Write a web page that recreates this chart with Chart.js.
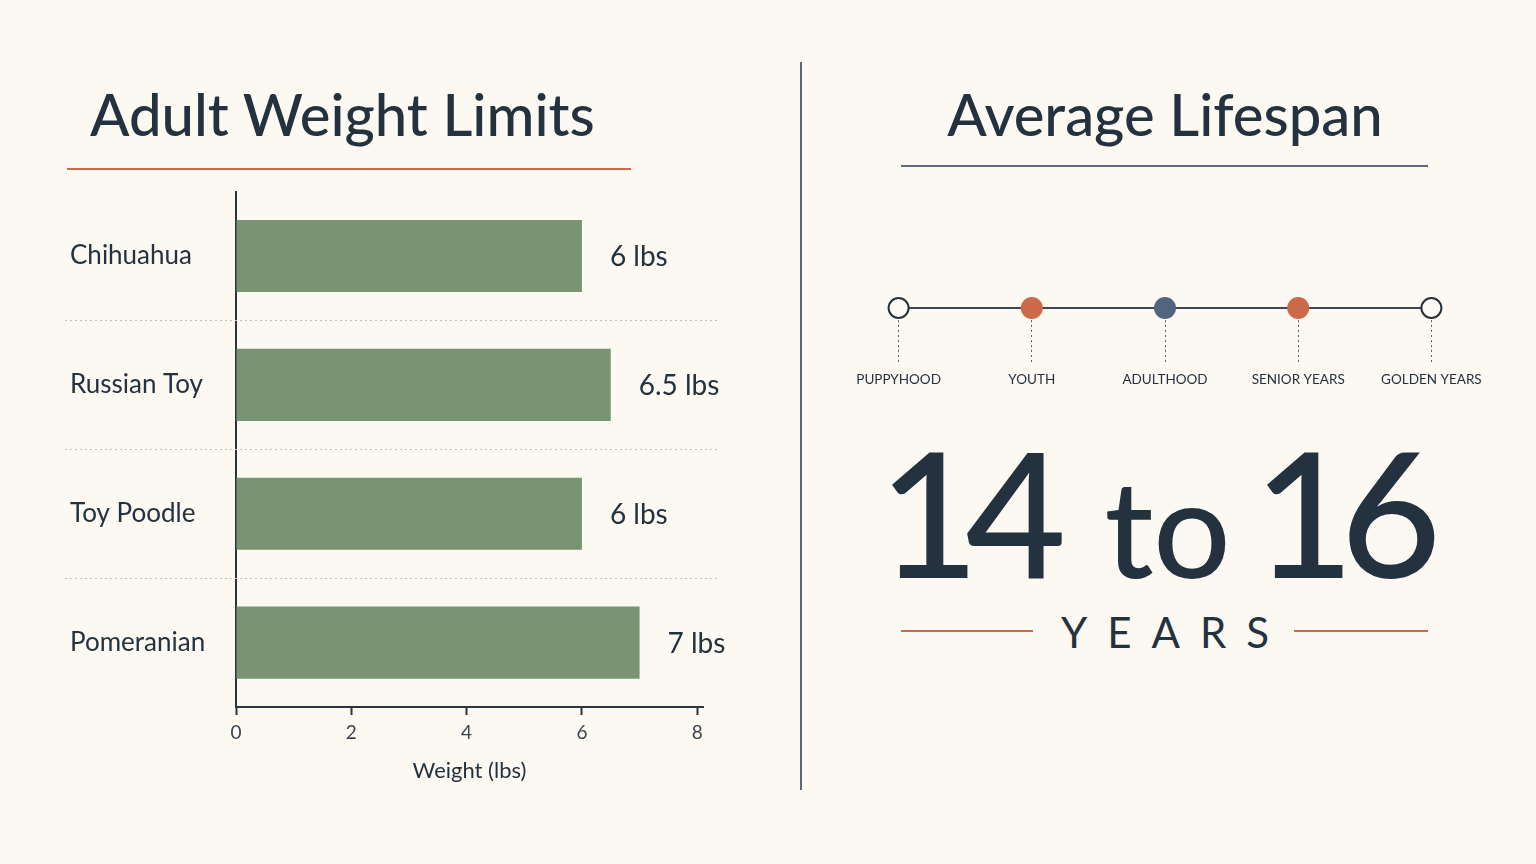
<!DOCTYPE html>
<html>
<head>
<meta charset="utf-8">
<script src="https://cdn.jsdelivr.net/npm/chart.js@4.4.1/dist/chart.umd.min.js"></script>
<style>
  body { margin: 0; background: #fcf8f2; width: 1536px; height: 864px; overflow: hidden; position: relative; font-family: Lato, 'Open Sans', sans-serif; color: #243240; }
  .abs { position: absolute; }
  .title { font-size: 58px; line-height: 1; font-weight: 500; white-space: nowrap; }
  .rule { height: 2px; }
  .big { left: 848px; width: 610px; top: 424px; text-align: center; line-height: 1; white-space: nowrap; font-weight: 500; }
  .big .num { font-size: 174px; letter-spacing: -14px; }
  .big .to { font-size: 136px; margin: 0 23px 0 52px; }
  .years { left: 1040px; width: 250px; top: 611px; text-align: center; font-size: 42px; line-height: 1; letter-spacing: 20px; padding-left: 20px; box-sizing: border-box; }
  canvas { position: absolute; }
</style>
</head>
<body>
<div class="abs title" style="left:90px;top:85px;">Adult Weight Limits</div>
<div class="abs rule" style="left:67px;top:168px;width:564px;background:#d0694a;"></div>

<div class="abs" style="left:800px;top:62px;width:2px;height:728px;background:#5d6978;"></div>

<div class="abs title" style="left:880px;width:570px;top:85px;text-align:center;">Average Lifespan</div>
<div class="abs rule" style="left:901px;top:165px;width:527px;background:#5f6b79;"></div>

<canvas id="weightChart" width="680" height="619" style="left:60px;top:176px;"></canvas>
<canvas id="stageChart" width="666" height="120" style="left:832px;top:280px;"></canvas>

<div class="abs big" id="bigRange"></div>
<div class="abs rule" style="left:901px;top:630px;width:132px;background:#d0694a;"></div>
<div class="abs years">YEARS</div>
<div class="abs rule" style="left:1294px;top:630px;width:134px;background:#d0694a;"></div>

<script>
// left panel data
const breeds = ['Chihuahua', 'Russian Toy', 'Toy Poodle', 'Pomeranian'];
const weights = [6, 6.5, 6, 7];
const weightTicks = [0, 2, 4, 6, 8];

// right panel data
const stages = ['PUPPYHOOD', 'YOUTH', 'ADULTHOOD', 'SENIOR YEARS', 'GOLDEN YEARS'];
const stageLevel = [0, 0, 0, 0, 0];
const lifespanMin = 14;
const lifespanMax = 16;

const FONT = 'Lato, "Open Sans", sans-serif';
const INK = '#243240';

document.getElementById('bigRange').innerHTML =
    `<span class="num">${lifespanMin}</span><span class="to">to</span><span class="num">${lifespanMax}</span>`;

// dotted separators between breeds, running under the labels too
const separators = {
    id: 'separators',
    beforeDatasetsDraw(chart) {
        const ctx = chart.ctx, y = chart.scales.y;
        ctx.save();
        ctx.strokeStyle = '#c4bfb6';
        ctx.lineWidth = 1;
        ctx.setLineDash([2, 3]);
        for (let i = 0; i < breeds.length - 1; i++) {
            const py = Math.round((y.getPixelForValue(i) + y.getPixelForValue(i + 1)) / 2) + 0.5;
            ctx.beginPath();
            ctx.moveTo(5, py);
            ctx.lineTo(chart.chartArea.right + 15, py);
            ctx.stroke();
        }
        ctx.restore();
    }
};

// "6 lbs" etc after each bar
const valueLabels = {
    id: 'valueLabels',
    afterDatasetsDraw(chart) {
        const ctx = chart.ctx;
        ctx.save();
        ctx.font = '28px ' + FONT;
        ctx.fillStyle = INK;
        ctx.textBaseline = 'middle';
        chart.getDatasetMeta(0).data.forEach((bar, i) => {
            ctx.fillText(`${weights[i]} lbs`, bar.x + 28, bar.y + 1);
        });
        ctx.restore();
    }
};

new Chart(document.getElementById('weightChart'), {
    type: 'bar',
    data: {
        labels: breeds,
        datasets: [{
            data: weights,
            backgroundColor: '#789473',
            barPercentage: 0.56,
            categoryPercentage: 1
        }]
    },
    options: {
        indexAxis: 'y',
        responsive: false,
        animation: false,
        layout: { padding: { left: 10, top: 7, right: 37, bottom: 0 } },
        plugins: { legend: { display: false }, tooltip: { enabled: false } },
        scales: {
            x: {
                min: 0,
                max: 8.1,
                afterBuildTicks: s => { s.ticks = weightTicks.map(v => ({ value: v })); },
                grid: { drawOnChartArea: false, tickLength: 8, tickColor: '#2a3540', tickWidth: 2 },
                border: { color: '#2a3540', width: 2 },
                ticks: { font: { family: FONT, size: 19 }, color: '#3a4550', padding: 6 },
                title: { display: true, text: 'Weight (lbs)', font: { family: FONT, size: 22 }, color: INK, padding: { top: 4, bottom: 11 } },
                afterFit: s => { s.height = 88; }
            },
            y: {
                grid: { display: false },
                border: { color: '#2a3540', width: 2 },
                ticks: { crossAlign: 'far', font: { family: FONT, size: 26 }, color: INK, padding: 0 },
                afterFit: s => { s.width = 166; }
            }
        }
    },
    plugins: [separators, valueLabels]
});

// life stage timeline
new Chart(document.getElementById('stageChart'), {
    type: 'line',
    data: {
        labels: stages,
        datasets: [{
            data: stageLevel,
            borderColor: '#3b4652',
            borderWidth: 2,
            clip: false,
            pointRadius: 10,
            pointBorderWidth: 2,
            pointBackgroundColor: ['#fdfaf5', '#cd6a4a', '#51657e', '#cd6a4a', '#fdfaf5'],
            pointBorderColor: ['#26323d', '#cd6a4a', '#51657e', '#cd6a4a', '#26323d']
        }]
    },
    options: {
        responsive: false,
        animation: false,
        layout: { autoPadding: false, padding: { top: 16, left: 0, right: 0, bottom: 0 } },
        plugins: { legend: { display: false }, tooltip: { enabled: false } },
        scales: {
            x: {
                offset: true,
                grid: { drawOnChartArea: false, tickLength: 42, tickColor: '#5a6470', tickWidth: 1, tickBorderDash: [2, 3] },
                border: { display: false },
                ticks: { autoSkip: false, maxRotation: 0, font: { family: FONT, size: 13.5 }, color: INK, padding: 10 },
                afterFit: s => { s.height = 80; s.paddingLeft = 0; s.paddingRight = 0; }
            },
            y: { display: false, min: -1, max: 1 }
        }
    }
});
</script>
</body>
</html>
